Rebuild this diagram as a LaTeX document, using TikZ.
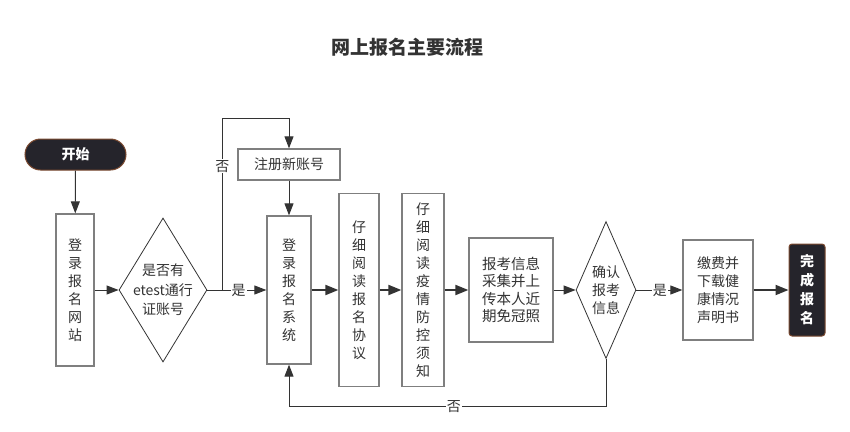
\documentclass[tikz,border=0pt]{standalone}
\usepackage{fontspec}
\setmainfont{Noto Sans CJK SC}
\usetikzlibrary{shapes.geometric,arrows.meta}
\definecolor{ink}{HTML}{333333}
\definecolor{boxgray}{HTML}{7F7F7F}
\definecolor{termfill}{HTML}{25242B}
\definecolor{termedge}{HTML}{7B4A30}

\tikzset{
  box/.style={draw=boxgray,line width=1.3pt,fill=white,align=center,inner sep=0pt},
  term/.style={draw=termedge,line width=1pt,fill=termfill,text=white,align=center,inner sep=0pt,font=\bfseries\fontsize{14pt}{19pt}\selectfont},
  decide/.style={draw=ink,line width=0.8pt,shape=diamond,inner sep=0pt},
  arr/.style={ink,line width=1pt,-{Triangle[length=12pt,width=9pt]}},
  thickarr/.style={ink,line width=2pt,-{Triangle[length=13pt,width=10pt]}},
  lbl/.style={fill=white,inner sep=1pt}
}

\begin{document}
\begin{tikzpicture}[x=1pt,y=-1pt,font=\fontsize{14pt}{18pt}\selectfont,text=ink]
\useasboundingbox (0,0) rectangle (850,431);
\node[font=\bfseries\fontsize{19pt}{22pt}\selectfont] (0) at (407,47) {网上报名主要流程};
\node[term,minimum width=101pt,minimum height=31pt,rounded corners=15.5pt] (1) at (75.5,154.5) {开始};
\node[box,minimum width=38pt,minimum height=152pt] (2) at (75,290) {登\\录\\报\\名\\网\\站};
\node[decide,minimum width=88pt,minimum height=144pt,label={[align=center,font=\fontsize{14pt}{19.5pt}\selectfont]center:是否有\\etest通行\\证账号}] (3) at (163,290) {};
\node[box,minimum width=102pt,minimum height=31pt] (4) at (289,164.5) {注册新账号};
\node[box,minimum width=44pt,minimum height=148pt] (5) at (289,290) {登\\录\\报\\名\\系\\统};
\node[box,minimum width=40pt,minimum height=193pt] (6) at (359,290) {仔\\细\\阅\\读\\报\\名\\协\\议};
\node[box,minimum width=42pt,minimum height=193pt] (7) at (423,290) {仔\\细\\阅\\读\\疫\\情\\防\\控\\须\\知};
\node[box,minimum width=84pt,minimum height=104pt,font=\fontsize{14.5pt}{17.5pt}\selectfont] (8) at (511,290) {报考信息\\采集并上\\传本人近\\期免冠照};
\node[decide,minimum width=60pt,minimum height=137pt,label={[align=center,font=\fontsize{14pt}{18pt}\selectfont]center:确认\\报考\\信息}] (9) at (606,290) {};
\node[box,minimum width=70pt,minimum height=100pt] (10) at (718,290) {缴费并\\下载健\\康情况\\声明书};
\node[term,minimum width=36pt,minimum height=92pt,rounded corners=3pt] (11) at (807,290) {完\\成\\报\\名};
\path[draw,arr](1) edge (2);
\path[draw,arr](2) edge (3);
\path[draw,arr](3) edge node[lbl,pos=0.53] {是} (5);
\path[draw,arr](4) edge (5);
\path[draw,thickarr](5) edge (6);
\path[draw,thickarr](6) edge (7);
\path[draw,thickarr](7) edge (8);
\path[draw,arr](8) edge (9);
\path[draw,arr](9) edge node[lbl,pos=0.51] {是} (10);
\path[draw,thickarr](10) edge (11);
\draw[arr] (3.east) -- ++(15,0) |- node[lbl,pos=0.36] {否} ([yshift=30pt]4.north) -- (4.north);
\draw[arr] (9.south) -- ++(0,48) -| node[lbl,pos=0.24] {否} (5.south);
\end{tikzpicture}
\end{document}
